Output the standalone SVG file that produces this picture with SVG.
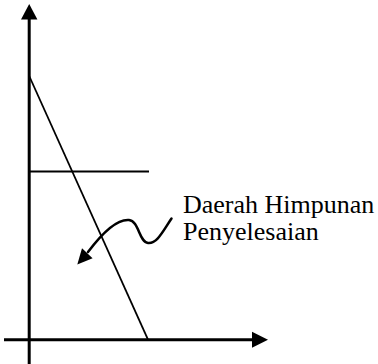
<svg xmlns="http://www.w3.org/2000/svg" width="378" height="364" viewBox="0 0 378 364">
<style>
.axis{stroke:#000;stroke-width:3;fill:none}
.ln{stroke:#000;stroke-width:1.8;fill:none}
.sq{stroke:#000;stroke-width:2.5;fill:none;stroke-linecap:round}
text{font-family:'Liberation Serif','Times New Roman',serif;font-size:26px;fill:#000}
</style>
<rect width="378" height="364" fill="#fff"/>
<g id="connectors">
<line class="axis" x1="29.2" y1="364" x2="29.2" y2="18"/>
<polygon points="29.2,4 21,19.5 37.4,19.5" fill="#000"/>
<line class="axis" x1="4" y1="339.7" x2="253" y2="339.7"/>
<polygon points="268,339.7 252,331.7 252,347.7" fill="#000"/>
<line class="ln" x1="29.2" y1="76" x2="148" y2="339.7"/>
<line class="ln" x1="29.2" y1="171.5" x2="149" y2="171.5"/>
<path class="sq" d="M171.5,218.5 C163,231 157,244 148,243 C139,242 139,221 129,220 C118,219 103,232 88,252"/>
<polygon points="77.3,264.5 82,248.2 92.6,258.2" fill="#000"/>
</g>
<g id="label">
<text x="183" y="213.3">Daerah Himpunan</text>
<text x="183" y="240">Penyelesaian</text>
</g>
</svg>
